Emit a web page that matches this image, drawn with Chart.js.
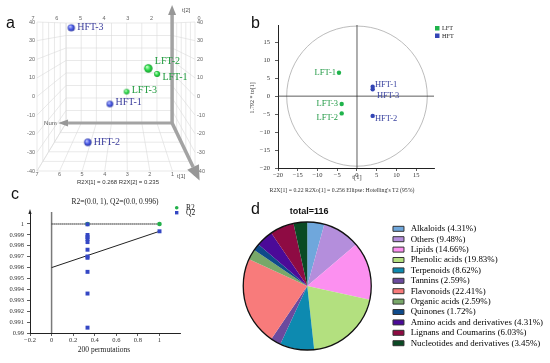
<!DOCTYPE html>
<html>
<head>
<meta charset="utf-8">
<title>Metabolite profile</title>
<script src="https://cdn.jsdelivr.net/npm/chart.js@4/dist/chart.umd.min.js"></script>
<style>
  html, body { margin: 0; padding: 0; background: #fff; }
  body { position: relative; width: 550px; height: 363px; overflow: hidden; }
  canvas { position: absolute; }
  .tag { position: absolute; font: 16px/16px "Liberation Sans", Arial, sans-serif; color: #111; }
</style>
</head>
<body>
<canvas id="chartA" width="240" height="190" style="left:0;top:0"></canvas>
<canvas id="chartB" width="230" height="200" style="left:240px;top:0"></canvas>
<canvas id="chartC" width="220" height="178" style="left:0;top:185px"></canvas>
<canvas id="chartD" width="330" height="158" style="left:223px;top:205px"></canvas>
<div class="tag" style="left:6px;top:15px">a</div>
<div class="tag" style="left:251px;top:15px">b</div>
<div class="tag" style="left:11px;top:186px">c</div>
<div class="tag" style="left:251px;top:201px">d</div>
<script>
(function () {
  "use strict";

  // a: PCA scores, 3D view
  var pcaNames = ["LFT-1", "LFT-2", "LFT-3", "HFT-1", "HFT-2", "HFT-3"];
  var pcaT1 = [1.68, 2.07, 3.03, 3.77, 4.75, 5.48];
  var pcaT2 = [12.1, 15.1, 2.6, -4.0, -24.6, 36.9];

  // b: OPLS-DA scores
  var lftNames = ["LFT-1", "LFT-2", "LFT-3"];
  var lftT1 = [-4.56, -3.87, -3.87];
  var lftTo = [6.5, -4.8, -2.2];
  var hftNames = ["HFT-1", "HFT-2", "HFT-3"];
  var hftT1 = [3.97, 3.97, 3.97];
  var hftTo = [2.6, -5.5, 1.9];
  var ellipseT1 = 17.8, ellipseTo = 19.5;

  // c: permutation test (200 permutations)
  var permX = 0.333;
  var permR2 = [1];
  var permQ2 = [0.99997, 0.99899, 0.99880, 0.99862, 0.99834, 0.99764, 0.99702, 0.99690, 0.99561, 0.99362, 0.99049];
  var origR2 = 1, origQ2 = 0.99933;
  var interR2 = 1, interQ2 = 0.996;

  // d: metabolite classes
  var classNames = ["Alkaloids", "Others", "Lipids", "Phenolic acids", "Terpenoids", "Tannins",
    "Flavonoids", "Organic acids", "Quinones", "Amino acids and derivatives",
    "Lignans and Coumarins", "Nucleotides and derivatives"];
  var classCounts = [5, 11, 17, 23, 10, 3, 26, 3, 2, 5, 7, 4];
  var classColors = ["#6fa7dc", "#b48edc", "#fc90f0", "#b3e07f", "#0d8ab0", "#6b4a9e",
    "#f87b7b", "#78a869", "#0e4a8a", "#4b0a98", "#8e0b43", "#0a4a24"];

  var SERIF = '"Liberation Serif", "Times New Roman", serif';
  var SANS = '"Liberation Sans", Arial, sans-serif';
  Chart.defaults.font.family = SERIF;
  Chart.defaults.animation = false;
  Chart.defaults.responsive = false;
  Chart.defaults.plugins.legend.display = false;
  Chart.defaults.plugins.tooltip.enabled = false;

  function minus(v) { return String(v).replace("-", "\u2212"); }

  // shaded ball used as point style in the 3D plot
  function ball(r, light, base, dark) {
    var cv = document.createElement("canvas");
    var s = Math.ceil(r * 2 + 2);
    cv.width = s; cv.height = s;
    var g = cv.getContext("2d"), m = s / 2;
    var grad = g.createRadialGradient(m - r * 0.35, m - r * 0.4, r * 0.1, m, m, r);
    grad.addColorStop(0, light);
    grad.addColorStop(0.55, base);
    grad.addColorStop(1, dark);
    g.fillStyle = grad;
    g.beginPath(); g.arc(m, m, r, 0, Math.PI * 2); g.fill();
    return cv;
  }

  function arrow(c, x0, y0, x1, y1, shaft, headLen, headHalf) {
    var dx = x1 - x0, dy = y1 - y0, L = Math.sqrt(dx * dx + dy * dy);
    var ux = dx / L, uy = dy / L;
    var bx = x1 - ux * headLen, by = y1 - uy * headLen;
    c.strokeStyle = "#a3a3a3"; c.lineWidth = shaft;
    c.beginPath(); c.moveTo(x0, y0); c.lineTo(bx, by); c.stroke();
    c.fillStyle = "#979797";
    c.beginPath();
    c.moveTo(x1, y1);
    c.lineTo(bx - uy * headHalf, by + ux * headHalf);
    c.lineTo(bx + uy * headHalf, by - ux * headHalf);
    c.closePath(); c.fill();
  }

  // ---------- a ----------
  var radiiA = [3, 4.2, 2.8, 3.3, 3.7, 3.6];
  var shiftA = [3.7, -6.6, -1, -1.3, 0, 0];
  var ballsA = pcaNames.map(function (n, i) {
    return n.indexOf("LFT") === 0
      ? ball(radiiA[i], "#c4ffc8", "#2ddc4a", "#129a2a")
      : ball(radiiA[i], "#c0c6ff", "#4b5ce8", "#28329c");
  });

  var frame3d = {
    id: "frame3d",
    beforeDatasetsDraw: function (chart) {
      var c = chart.ctx, a = chart.chartArea, xs = chart.scales.x, ys = chart.scales.y;
      function P(u, v, d) {
        var fx = xs.getPixelForValue(u), fy = ys.getPixelForValue(v);
        var bx = a.left + 0.184 * a.width + (fx - a.left) * 0.671;
        var by = a.top + 1 + (fy - a.top) * 0.671;
        return [bx + (fx - bx) * d, by + (fy - by) * d];
      }
      function seg(p, q) { c.moveTo(p[0], p[1]); c.lineTo(q[0], q[1]); }
      var u, v, d;
      c.save();
      c.strokeStyle = "#dadada"; c.lineWidth = 0.6;
      c.beginPath();
      for (u = 0; u <= 7; u++) { seg(P(u, -40, 0), P(u, 40, 0)); seg(P(u, -40, 0), P(u, -40, 1)); }
      for (v = -40; v <= 40; v += 10) {
        seg(P(0, v, 0), P(7, v, 0)); seg(P(7, v, 0), P(7, v, 1)); seg(P(0, v, 0), P(0, v, 1));
      }
      for (d = 0; d <= 1.001; d += 0.2) {
        seg(P(7, -40, d), P(7, 40, d)); seg(P(0, -40, d), P(0, 40, d)); seg(P(0, -40, d), P(7, -40, d));
      }
      c.stroke();

      c.fillStyle = "#666"; c.font = "5.5px " + SANS;
      c.textAlign = "center";
      for (u = 0; u <= 7; u++) {
        var top = P(u, 40, 1), bot = P(u, -40, 1);
        c.textBaseline = "bottom";
        if (u !== 1) c.fillText(String(u), top[0] + (top[0] - 116) * 0.05, top[1] - 1);
        c.textBaseline = "top";
        c.fillText(String(u), bot[0], bot[1] + 1);
      }
      c.textBaseline = "middle";
      for (v = -40; v <= 40; v += 10) {
        c.textAlign = "right"; c.fillText(String(v), a.left - 2, ys.getPixelForValue(v));
        c.textAlign = "left"; c.fillText(String(v), a.right + 2, ys.getPixelForValue(v));
      }

      var o = P(0, -40, 0), f = P(0, -40, 1), bl = P(7, -40, 0);
      arrow(c, o[0], o[1], bl[0] - 8, o[1], 3, 10, 3.5);
      arrow(c, o[0], o[1], o[0], a.top - 17, 3.5, 10, 4);
      arrow(c, o[0], o[1], o[0] + (f[0] - o[0]) * 1.2, o[1] + (f[1] - o[1]) * 1.2, 3.5, 15, 6.5);

      c.fillStyle = "#555"; c.font = "6px " + SANS; c.textAlign = "left"; c.textBaseline = "middle";
      c.fillText("Num", bl[0] - 22, o[1]);
      c.fillText("t[2]", o[0] + 10, a.top - 12);
      c.fillText("t[1]", o[0] + 5, a.bottom + 5);
      c.fillStyle = "#333"; c.textAlign = "center";
      c.fillText("R2X[1] = 0.268 R2X[2] = 0.235", a.left + 81, a.bottom + 11);
      c.restore();
    },
    afterDatasetsDraw: function (chart) {
      var c = chart.ctx, pts = chart.getDatasetMeta(0).data;
      c.save();
      c.font = "10px " + SERIF; c.textAlign = "left"; c.textBaseline = "middle";
      pts.forEach(function (p, i) {
        c.fillStyle = pcaNames[i].indexOf("LFT") === 0 ? "#1e9a3c" : "#3a3c9c";
        c.fillText(pcaNames[i], p.x + radiiA[i] + 2.3, p.y + shiftA[i]);
      });
      c.restore();
    }
  };

  new Chart(document.getElementById("chartA"), {
    type: "scatter",
    data: {
      datasets: [{
        data: pcaNames.map(function (n, i) { return { x: pcaT1[i], y: pcaT2[i] }; }),
        pointStyle: ballsA,
        pointRadius: radiiA
      }]
    },
    options: {
      layout: { padding: { left: 37, top: 22, right: 45, bottom: 19 } },
      scales: {
        x: { display: false, reverse: true, min: 0, max: 7 },
        y: { display: false, min: -40, max: 40 }
      }
    },
    plugins: [frame3d]
  });

  // ---------- b ----------
  var lftShift = [[-3, 0], [-3.7, 4.7], [-3.7, 0]];
  var hftShift = [[2.3, -1.7], [2.3, 3], [4.3, 6.7]];

  var scoreDecor = {
    id: "scoreDecor",
    beforeDatasetsDraw: function (chart) {
      var c = chart.ctx, a = chart.chartArea, xs = chart.scales.x, ys = chart.scales.y;
      var x0 = xs.getPixelForValue(0), y0 = ys.getPixelForValue(0);
      c.save();
      c.strokeStyle = "#ababab"; c.lineWidth = 0.8;
      c.beginPath();
      c.ellipse(x0, y0, xs.getPixelForValue(ellipseT1) - x0, y0 - ys.getPixelForValue(ellipseTo), 0, 0, Math.PI * 2);
      c.stroke();
      c.strokeStyle = "#333"; c.lineWidth = 0.8;
      c.beginPath();
      c.moveTo(x0, a.top); c.lineTo(x0, a.bottom);
      c.moveTo(a.left, y0); c.lineTo(a.right, y0);
      c.stroke();
      c.restore();
    },
    afterDatasetsDraw: function (chart) {
      var c = chart.ctx, a = chart.chartArea, xs = chart.scales.x;
      c.save();
      c.font = "8.5px " + SERIF; c.textBaseline = "middle";
      c.fillStyle = "#239a46"; c.textAlign = "right";
      chart.getDatasetMeta(0).data.forEach(function (p, i) {
        c.fillText(lftNames[i], p.x + lftShift[i][0], p.y + lftShift[i][1]);
      });
      c.fillStyle = "#3b44a0"; c.textAlign = "left";
      chart.getDatasetMeta(1).data.forEach(function (p, i) {
        c.fillText(hftNames[i], p.x + hftShift[i][0], p.y + hftShift[i][1]);
      });

      // legend
      c.font = "6.2px " + SERIF; c.fillStyle = "#222";
      c.fillText("LFT", a.right + 8, 28.5);
      c.fillText("HFT", a.right + 8, 36);
      c.fillStyle = "#1fb34b"; c.fillRect(a.right + 1, 26, 4.5, 4.5);
      c.fillStyle = "#3345b5"; c.fillRect(a.right + 1, 33.5, 4.5, 4.5);

      // axis titles and footer
      c.fillStyle = "#333"; c.textAlign = "center";
      c.font = "6.5px " + SERIF;
      c.fillText("t[1]", xs.getPixelForValue(0), a.bottom + 9.5);
      c.font = "5.8px " + SERIF;
      c.fillText("R2X[1] = 0.22 R2Xo[1] = 0.256 Ellipse: Hotelling's T2 (95%)", a.left + 64, a.bottom + 22);
      c.translate(a.left - 26, chart.scales.y.getPixelForValue(-0.5));
      c.rotate(-Math.PI / 2);
      c.font = "6px " + SERIF;
      c.fillText("1.792 * to[1]", 0, 0);
      c.restore();
    }
  };

  new Chart(document.getElementById("chartB"), {
    type: "scatter",
    data: {
      datasets: [
        { label: "LFT", data: lftT1.map(function (x, i) { return { x: x, y: lftTo[i] }; }),
          backgroundColor: "#1fb34b", borderWidth: 0, pointRadius: 2.2 },
        { label: "HFT", data: hftT1.map(function (x, i) { return { x: x, y: hftTo[i] }; }),
          backgroundColor: "#3345b5", borderWidth: 0, pointRadius: 2.2 }
      ]
    },
    options: {
      layout: { padding: { left: 0, top: 25, right: 36, bottom: 16 } },
      scales: {
        x: {
          min: -20, max: 19.5,
          afterFit: function (s) { s.height = 16; },
          ticks: { stepSize: 5, includeBounds: false, padding: 0, maxRotation: 0,
            color: "#333", font: { size: 6.5 }, callback: minus },
          grid: { drawOnChartArea: false, tickLength: 3, color: "#333", lineWidth: 0.8 },
          border: { color: "#222", width: 1 }
        },
        y: {
          min: -20, max: 19.8,
          afterFit: function (s) { s.width = 38; },
          ticks: { stepSize: 5, includeBounds: false, padding: 5,
            color: "#333", font: { size: 6.5 }, callback: minus },
          grid: { drawOnChartArea: false, tickLength: 3, color: "#333", lineWidth: 0.8 },
          border: { color: "#222", width: 1 }
        }
      }
    },
    plugins: [scoreDecor]
  });

  // ---------- c ----------
  var permDecor = {
    id: "permDecor",
    beforeDatasetsDraw: function (chart) {
      var c = chart.ctx, a = chart.chartArea, xs = chart.scales.x;
      var x0 = xs.getPixelForValue(0);
      c.save();
      c.strokeStyle = "#7a7a7a"; c.lineWidth = 1.5;
      c.beginPath(); c.moveTo(x0, a.bottom); c.lineTo(x0, a.top); c.stroke();
      c.fillStyle = "#222";
      c.beginPath(); c.moveTo(a.left, a.top - 3); c.lineTo(a.left - 1.6, a.top + 2); c.lineTo(a.left + 1.6, a.top + 2);
      c.closePath(); c.fill();
      c.restore();
    },
    afterDraw: function (chart) {
      var c = chart.ctx, a = chart.chartArea;
      c.save();
      c.fillStyle = "#222"; c.textAlign = "center"; c.textBaseline = "middle";
      c.font = "7.5px " + SERIF;
      c.fillText("R2=(0.0, " + interR2 + "), Q2=(0.0, " + interQ2 + ")", a.left + 85, a.top - 10);
      c.fillText("200 permutations", a.left + 74, a.bottom + 17);
      c.textAlign = "left";
      c.fillText("R2", a.right + 6, a.top - 4.3);
      c.fillText("Q2", a.right + 6, a.top + 0.7);
      c.fillStyle = "#22b04a";
      c.beginPath(); c.arc(a.right - 3.3, a.top - 4.3, 1.8, 0, Math.PI * 2); c.fill();
      c.fillStyle = "#3447c4";
      c.fillRect(a.right - 5, a.top - 1, 3.4, 3.4);
      c.restore();
    }
  };

  new Chart(document.getElementById("chartC"), {
    type: "scatter",
    data: {
      datasets: [
        { label: "Q2",
          data: permQ2.map(function (v) { return { x: permX, y: v }; }).concat([{ x: 1, y: origQ2 }]),
          pointStyle: "rect", pointRadius: 2.8, backgroundColor: "#3447c4", borderWidth: 0 },
        { label: "R2",
          data: permR2.map(function (v) { return { x: permX, y: v }; }).concat([{ x: 1, y: origR2 }]),
          pointRadius: 2.3, backgroundColor: "#22b04a", borderWidth: 0 },
        { data: [{ x: 0, y: interQ2 }, { x: 1, y: origQ2 }], showLine: true,
          borderColor: "#222", borderWidth: 1, pointRadius: 0 },
        { data: [{ x: 0, y: interR2 }, { x: 1, y: origR2 }], showLine: true,
          borderColor: "#555", borderWidth: 2, borderDash: [1, 1], pointRadius: 0 }
      ]
    },
    options: {
      layout: { padding: { left: 0, top: 27, right: 40, bottom: 14 } },
      scales: {
        x: {
          min: -0.2, max: 1.19,
          afterFit: function (s) { s.height = 16; },
          ticks: { stepSize: 0.2, includeBounds: false, padding: 0, maxRotation: 0,
            color: "#333", font: { size: 6.5 },
            callback: function (v) { return minus(parseFloat(v.toFixed(1))); } },
          grid: { drawOnChartArea: false, tickLength: 3, color: "#333", lineWidth: 0.8 },
          border: { color: "#222", width: 1 }
        },
        y: {
          min: 0.99, max: 1.0011,
          afterFit: function (s) { s.width = 30; },
          afterBuildTicks: function (s) { s.ticks = s.ticks.filter(function (t) { return t.value <= 1.00001; }); },
          ticks: { stepSize: 0.001, includeBounds: false, padding: 3,
            color: "#333", font: { size: 6.5 },
            callback: function (v) { return String(parseFloat(v.toFixed(3))); } },
          grid: { drawOnChartArea: false, tickLength: 3, color: "#333", lineWidth: 0.8 },
          border: { color: "#222", width: 1 }
        }
      }
    },
    plugins: [permDecor]
  });

  // ---------- d ----------
  var total = classCounts.reduce(function (s, v) { return s + v; }, 0);

  var pieDecor = {
    id: "pieDecor",
    afterDatasetsDraw: function (chart) {
      var c = chart.ctx, arc = chart.getDatasetMeta(0).data[0];
      c.save();
      c.strokeStyle = "#111"; c.lineWidth = 1.3;
      c.beginPath(); c.arc(arc.x, arc.y, arc.outerRadius, 0, Math.PI * 2); c.stroke();
      c.fillStyle = "#111"; c.font = "bold 9px " + SANS;
      c.textAlign = "center"; c.textBaseline = "middle";
      c.fillText("total=" + total, arc.x + 2, 7);
      c.restore();
    }
  };

  new Chart(document.getElementById("chartD"), {
    type: "pie",
    data: {
      labels: classNames,
      datasets: [{ data: classCounts, backgroundColor: classColors, borderWidth: 0 }]
    },
    options: {
      radius: 64,
      layout: { padding: { top: 4, right: 0 } },
      plugins: {
        legend: {
          display: true, position: "right", align: "center",
          labels: {
            boxWidth: 11, boxHeight: 5, padding: 1.5, color: "#222",
            font: { family: SERIF, size: 8.9 },
            generateLabels: function () {
              return classNames.map(function (n, i) {
                return {
                  text: " " + n + " (" + (classCounts[i] / total * 100).toFixed(2) + "%)",
                  fillStyle: classColors[i], strokeStyle: "#333", lineWidth: 1,
                  hidden: false, index: i
                };
              });
            }
          }
        }
      }
    },
    plugins: [pieDecor]
  });

})();
</script>
</body>
</html>
